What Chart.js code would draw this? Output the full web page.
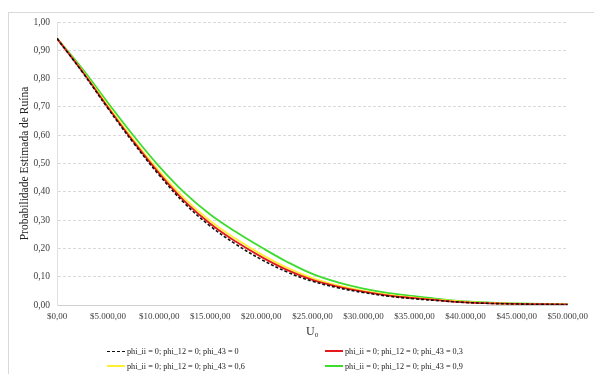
<!DOCTYPE html>
<html>
<head>
<meta charset="utf-8">
<script src="https://cdn.jsdelivr.net/npm/chart.js@4"></script>
<style>
    html, body { margin: 0; padding: 0; background: #fff; }
    #wrap { position: relative; width: 594px; height: 374px; overflow: hidden; }
    #frame { position: absolute; left: 8px; top: 12px; width: 620px; height: 400px; border: 1px solid #d9d9d9; }
    #chart { position: absolute; left: 0; top: 0; }
    .lg { position: absolute; font-family: 'Liberation Serif', serif; font-size: 8.2px; color: #222; white-space: nowrap; line-height: 12px; }
    .lg span.s { display: inline-block; width: 18px; vertical-align: middle; margin-right: 2px; margin-top: -2px; }
</style>
</head>
<body>
<div id="wrap">
    <div id="frame"></div>
    <canvas id="chart" width="594" height="374"></canvas>
</div>
<script>
"use strict";

/* data */
var capital = [0, 2500, 5000, 7500, 10000, 12500, 15000, 17500, 20000, 22500, 25000,
    27500, 30000, 32500, 35000, 37500, 40000, 42500, 45000, 47500, 50000];
var ruin00 = [0.942, 0.822, 0.694, 0.572, 0.459, 0.359, 0.279, 0.215, 0.161, 0.117, 0.084,
    0.061, 0.044, 0.031, 0.022, 0.015, 0.009, 0.0055, 0.0035, 0.0025, 0.0018];
var ruin03 = [0.942, 0.824, 0.698, 0.577, 0.465, 0.366, 0.287, 0.224, 0.170, 0.124, 0.089,
    0.065, 0.047, 0.033, 0.024, 0.016, 0.0095, 0.006, 0.0038, 0.0027, 0.002];
var ruin06 = [0.942, 0.827, 0.703, 0.584, 0.473, 0.376, 0.297, 0.234, 0.179, 0.132, 0.095,
    0.069, 0.050, 0.036, 0.026, 0.018, 0.011, 0.007, 0.0045, 0.0032, 0.0022];
var ruin09 = [0.942, 0.834, 0.714, 0.598, 0.490, 0.396, 0.320, 0.259, 0.204, 0.153, 0.110,
    0.080, 0.058, 0.042, 0.031, 0.021, 0.013, 0.0085, 0.0055, 0.0035, 0.0025];
var seriesNames = ['phi_ii = 0; phi_12 = 0; phi_43 = 0', 'phi_ii = 0; phi_12 = 0; phi_43 = 0,3',
    'phi_ii = 0; phi_12 = 0; phi_43 = 0,6', 'phi_ii = 0; phi_12 = 0; phi_43 = 0,9'];
var seriesColors = ['#111111', '#e31a1c', '#ffee33', '#3ddc2f'];
var yTitle = 'Probabilidade Estimada de Ruína';
var xTitle = 'U\u2080';

function pts(values) {
    return capital.map(function (c, i) { return { x: c, y: values[i] }; });
}

function money(v) {
    var s = Math.round(v).toString().replace(/\B(?=(\d{3})+(?!\d))/g, '.');
    return '$' + s + ',00';
}

var serif = 'Liberation Serif';
var allSeries = [ruin00, ruin03, ruin06, ruin09];
var datasets = allSeries.map(function (vals, i) {
    return {
        label: seriesNames[i],
        data: pts(vals),
        borderColor: seriesColors[i],
        borderWidth: i === 0 ? 1.6 : 1.8,
        borderDash: i === 0 ? [3, 2] : [],
        pointRadius: 0,
        fill: false,
        tension: 0.4
    };
});

var ctx = document.getElementById('chart').getContext('2d');
var myChart = new Chart(ctx, {
    type: 'line',
    data: { datasets: datasets },
    options: {
        responsive: false,
        animation: false,
        layout: { padding: { left: 0, top: 22, right: 26, bottom: 34 } },
        plugins: { legend: { display: false }, tooltip: { enabled: false } },
        scales: {
            x: {
                type: 'linear',
                min: 0, max: 50000,
                afterFit: function (scale) { scale.height = 35; },
                grid: { display: false, drawTicks: false },
                border: { display: true, color: '#d0d0d0', width: 1 },
                ticks: {
                    stepSize: 5000, padding: 6, maxRotation: 0, autoSkip: false,
                    color: '#404040', font: { family: serif, size: 9 },
                    callback: function (v) { return money(v); }
                },
                title: { display: true, text: xTitle, color: '#333', font: { family: serif, size: 12 }, padding: { top: 0, bottom: 1 } }
            },
            y: {
                min: 0, max: 1,
                afterFit: function (scale) { scale.width = 57; },
                grid: { color: '#dadada', drawTicks: false },
                border: { display: true, color: '#e0e0e0', dash: [3, 2] },
                ticks: {
                    stepSize: 0.1, padding: 7,
                    color: '#404040', font: { family: serif, size: 9.5 },
                    callback: function (v) { return v.toFixed(2).replace('.', ','); }
                },
                title: { display: true, text: yTitle, color: '#222', font: { family: serif, size: 11.5 }, padding: { top: 18, bottom: 0 } }
            }
        }
    }
});

/* legend, two columns */
var legendPos = [[107, 346], [325, 346], [107, 361], [325, 361]];
var wrap = document.getElementById('wrap');
seriesNames.forEach(function (name, i) {
    var d = document.createElement('div');
    d.className = 'lg';
    d.style.left = legendPos[i][0] + 'px';
    d.style.top = legendPos[i][1] + 'px';
    var s = document.createElement('span');
    s.className = 's';
    s.style.borderTop = (i === 0 ? '1.5px dashed ' : '2px solid ') + seriesColors[i];
    d.appendChild(s);
    d.appendChild(document.createTextNode(name));
    wrap.appendChild(d);
});
</script>
</body>
</html>
